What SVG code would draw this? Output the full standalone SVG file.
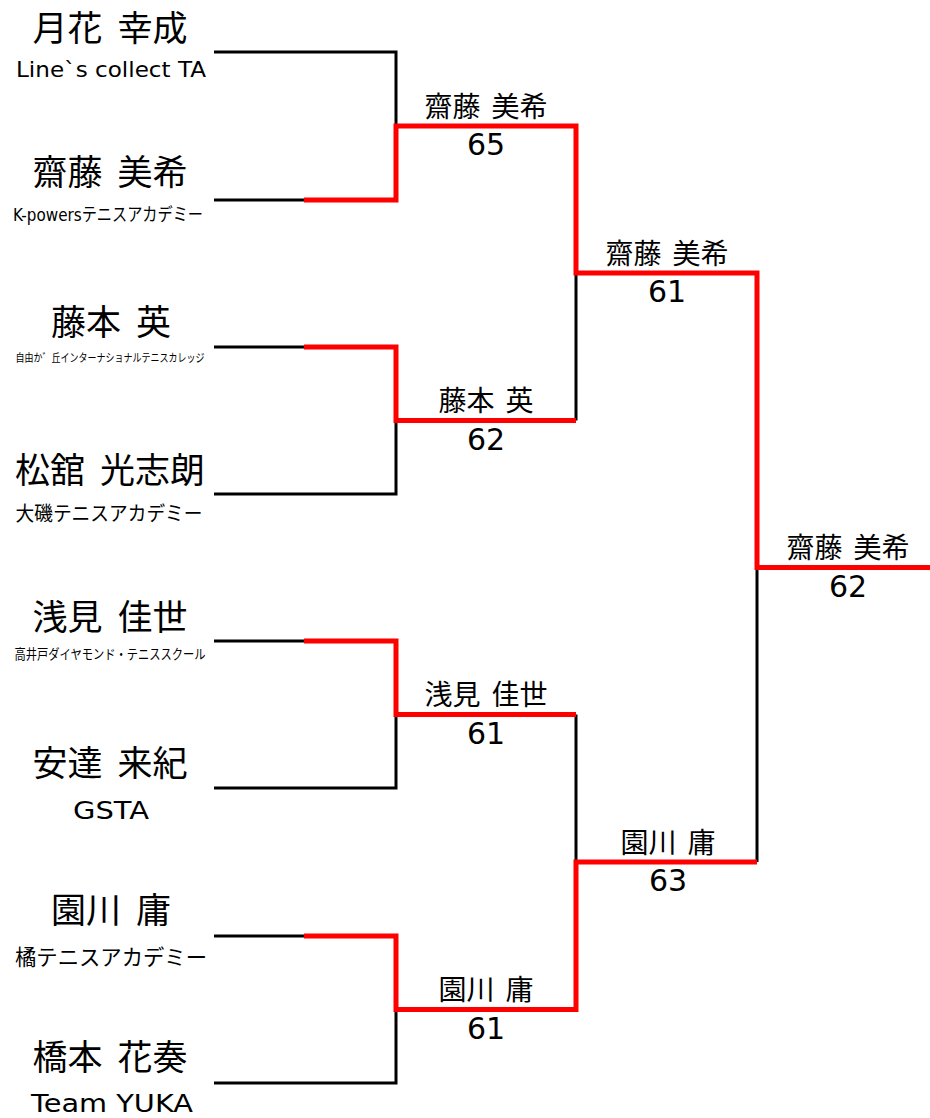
<svg xmlns="http://www.w3.org/2000/svg" width="930" height="1118" viewBox="0 0 930 1118">
<style>
text{font-family:'DejaVu Sans','Noto Sans CJK JP',sans-serif;fill:#000;text-anchor:middle}
.name{font-size:35px;word-spacing:4px}
.win{font-size:28px;word-spacing:2px}
.score{font-size:30px}
.blk{fill:none;stroke:#000;stroke-width:3;stroke-linejoin:miter}
.red{fill:none;stroke:#FF0000;stroke-width:5;stroke-linejoin:miter}
</style>
<rect width="930" height="1118" fill="#fff"/>
<g id="connectors">
<path class="blk" d="M214,52 H396 V126"/>
<path class="blk" d="M214,200 H304"/>
<path class="blk" d="M214,347 H304"/>
<path class="blk" d="M214,494 H396 V420.5"/>
<path class="blk" d="M214,641 H304"/>
<path class="blk" d="M214,788 H396 V714.5"/>
<path class="blk" d="M214,936 H304"/>
<path class="blk" d="M214,1083 H396 V1009.5"/>
<path class="blk" d="M576,273 V420.5"/>
<path class="blk" d="M576,714.5 V862"/>
<path class="blk" d="M757,567.5 V862"/>
<path class="red" d="M304,200 H396 V126 H576 V273 H757 V567.5 H932"/>
<path class="red" d="M304,347 H396 V420.5 H576"/>
<path class="red" d="M304,641 H396 V714.5 H576"/>
<path class="red" d="M304,936 H396 V1009.5 H576 V862 H757"/>
</g>
<g id="p1"><text class="name" x="110" y="41">月花 幸成</text><text x="111" y="77" font-size="20.5" textLength="190" lengthAdjust="spacingAndGlyphs">Line`s collect TA</text></g>
<g id="p2"><text class="name" x="110" y="185">齋藤 美希</text><text x="108" y="221" font-size="18" textLength="190" lengthAdjust="spacingAndGlyphs">K-powersテニスアカデミー</text></g>
<g id="p3"><text class="name" x="111" y="335">藤本 英</text><text x="110" y="362" font-size="11.5" textLength="189" lengthAdjust="spacingAndGlyphs">自由か゛丘インターナショナルテニスカレッジ</text></g>
<g id="p4"><text class="name" x="110" y="483">松舘 光志朗</text><text x="109" y="521" font-size="20.5" textLength="187" lengthAdjust="spacingAndGlyphs">大磯テニスアカデミー</text></g>
<g id="p5"><text class="name" x="110" y="630">浅見 佳世</text><text x="110" y="659" font-size="13.5" textLength="191" lengthAdjust="spacingAndGlyphs">高井戸ダイヤモンド・テニススクール</text></g>
<g id="p6"><text class="name" x="110" y="776">安達 来紀</text><text x="111" y="819" font-size="25" textLength="76" lengthAdjust="spacingAndGlyphs">GSTA</text></g>
<g id="p7"><text class="name" x="111" y="923">園川 庸</text><text x="111" y="965" font-size="21.5" textLength="192" lengthAdjust="spacingAndGlyphs">橘テニスアカデミー</text></g>
<g id="p8"><text class="name" x="110" y="1070">橋本 花奏</text><text x="112" y="1112" font-size="25" textLength="162" lengthAdjust="spacingAndGlyphs">Team YUKA</text></g>
<g id="r2a"><text class="win" x="486" y="116.5">齋藤 美希</text><text class="score" x="486" y="155">65</text></g>
<g id="r2b"><text class="win" x="486" y="411">藤本 英</text><text class="score" x="486" y="449.5">62</text></g>
<g id="r2c"><text class="win" x="486" y="705">浅見 佳世</text><text class="score" x="486" y="743.5">61</text></g>
<g id="r2d"><text class="win" x="486" y="1000">園川 庸</text><text class="score" x="486" y="1038.5">61</text></g>
<g id="r3a"><text class="win" x="667" y="263.5">齋藤 美希</text><text class="score" x="667" y="302">61</text></g>
<g id="r3b"><text class="win" x="668" y="852.5">園川 庸</text><text class="score" x="668" y="891">63</text></g>
<g id="final"><text class="win" x="848" y="558">齋藤 美希</text><text class="score" x="848" y="597">62</text></g>
</svg>
